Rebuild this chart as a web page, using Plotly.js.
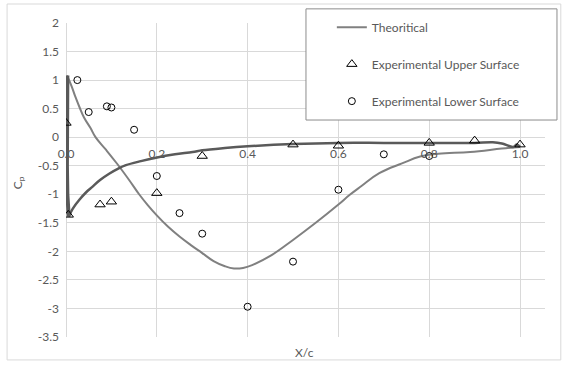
<!DOCTYPE html>
<html>
<head>
<meta charset="utf-8">
<script src="https://cdn.plot.ly/plotly-3.0.1.min.js"></script>
<style>
  html, body { margin: 0; padding: 0; background: #ffffff; }
  #chart { width: 565px; height: 365px; }
</style>
</head>
<body>
<div id="chart"></div>
<script>
// Theoretical Cp, lower (pressure) side: from the stagnation point back to the trailing edge
const theoryLowerX = [0.002, 0.012, 0.021, 0.030, 0.040, 0.054, 0.065, 0.088, 0.113, 0.139, 0.161, 0.180, 0.200, 0.225, 0.250, 0.275, 0.300, 0.325, 0.350, 0.370, 0.390, 0.410, 0.450, 0.500, 0.550, 0.600, 0.625, 0.650, 0.690, 0.740, 0.780, 0.820, 0.890, 0.960, 1.000];
const theoryLowerY = [1.08, 0.90, 0.70, 0.52, 0.34, 0.16, 0.00, -0.22, -0.47, -0.75, -1.00, -1.19, -1.37, -1.57, -1.74, -1.89, -2.03, -2.17, -2.26, -2.30, -2.29, -2.24, -2.08, -1.80, -1.50, -1.18, -1.01, -0.86, -0.63, -0.46, -0.34, -0.29, -0.26, -0.20, -0.17];

// Theoretical Cp along the leading edge (densely sampled near x = 0)
const theoryLeadX = [0.003, 0.002, 0.002, 0.003, 0.004, 0.006];
const theoryLeadY = [1.08, 0.50, -0.50, -1.00, -1.25, -1.39];

// Theoretical Cp, upper (suction) side: from the leading edge to the trailing edge
const theoryUpperX = [0.006, 0.015, 0.029, 0.045, 0.058, 0.075, 0.095, 0.115, 0.132, 0.165, 0.198, 0.240, 0.279, 0.300, 0.350, 0.400, 0.500, 0.600, 0.700, 0.800, 0.900, 0.940, 0.960, 0.985, 0.993, 1.000];
const theoryUpperY = [-1.39, -1.25, -1.10, -0.96, -0.87, -0.75, -0.64, -0.55, -0.49, -0.42, -0.36, -0.30, -0.26, -0.23, -0.19, -0.16, -0.12, -0.10, -0.10, -0.10, -0.10, -0.09, -0.11, -0.17, -0.13, -0.17];

// Measured pressure taps
const expUpperX = [0.000, 0.005, 0.075, 0.100, 0.200, 0.300, 0.500, 0.600, 0.800, 0.900, 1.000];
const expUpperY = [0.25, -1.36, -1.18, -1.13, -0.98, -0.33, -0.13, -0.15, -0.10, -0.06, -0.13];

const expLowerX = [0.025, 0.050, 0.090, 0.100, 0.150, 0.200, 0.250, 0.300, 0.400, 0.500, 0.600, 0.700, 0.800];
const expLowerY = [1.00, 0.44, 0.54, 0.52, 0.13, -0.68, -1.33, -1.69, -2.97, -2.18, -0.92, -0.30, -0.33];

// Axis ticks
const xTickVals = [0, 0.2, 0.4, 0.6, 0.8, 1.0];
const xTickText = ['0.0', '0.2', '0.4', '0.6', '0.8', '1.0'];
const yTickVals = [2, 1.5, 1, 0.5, 0, -0.5, -1, -1.5, -2, -2.5, -3, -3.5];
const yTickText = ['2', '1.5', '1', '0.5', '0', '-0.5', '-1', '-1.5', '-2', '-2.5', '-3', '-3.5'];

const seriesNames = ['Theoritical', 'Experimental Upper Surface', 'Experimental Lower Surface'];

const FONT = 'Lato, "Open Sans", sans-serif';
const TEXT = '#595959';
const GRID = '#d9d9d9';

const traces = [
  {
    x: theoryLowerX, y: theoryLowerY, name: seriesNames[0],
    type: 'scatter', mode: 'lines', legendgroup: 'theory',
    line: { color: '#808080', width: 2, shape: 'spline', smoothing: 1.2 }
  },
  {
    x: theoryLeadX, y: theoryLeadY, name: seriesNames[0],
    type: 'scatter', mode: 'lines', legendgroup: 'theory', showlegend: false,
    line: { color: '#595959', width: 4 }
  },
  {
    x: theoryUpperX, y: theoryUpperY, name: seriesNames[0],
    type: 'scatter', mode: 'lines', legendgroup: 'theory', showlegend: false,
    line: { color: '#5a5a5a', width: 2.5, shape: 'spline', smoothing: 1 }
  },
  {
    x: expUpperX, y: expUpperY, name: seriesNames[1],
    type: 'scatter', mode: 'markers', legendgroup: 'upper',
    marker: { symbol: 'triangle-up-open', size: 9, color: '#000000', line: { width: 1, color: '#000000' } }
  },
  {
    x: expLowerX, y: expLowerY, name: seriesNames[2],
    type: 'scatter', mode: 'markers', legendgroup: 'lower',
    marker: { symbol: 'circle-open', size: 7, color: '#000000', line: { width: 1, color: '#000000' } }
  }
];

const layout = {
  width: 565,
  height: 365,
  margin: { l: 66, r: 20, t: 23, b: 28 },
  paper_bgcolor: '#ffffff',
  plot_bgcolor: '#ffffff',
  font: { family: FONT, size: 12, color: TEXT },
  showlegend: true,
  legend: {
    x: 0.555, y: 1.033, xanchor: 'left', yanchor: 'top',
    bgcolor: 'rgba(0,0,0,0)', borderwidth: 0,
    tracegroupgap: 18,
    font: { family: FONT, size: 12, color: TEXT }
  },
  xaxis: {
    range: [0, 1.055],
    tickvals: xTickVals, ticktext: xTickText,
    anchor: 'free', position: 3.5 / 5.5,
    ticks: '', ticklabelstandoff: 8,
    showgrid: true, gridcolor: GRID, gridwidth: 1,
    zeroline: true, zerolinecolor: GRID, zerolinewidth: 1,
    showline: false,
    tickfont: { family: FONT, size: 12, color: TEXT }
  },
  yaxis: {
    range: [-3.5, 2],
    tickvals: yTickVals, ticktext: yTickText,
    ticks: '', ticklabelstandoff: 6,
    showgrid: true, gridcolor: GRID, gridwidth: 1,
    zeroline: true, zerolinecolor: GRID, zerolinewidth: 1,
    showline: false,
    tickfont: { family: FONT, size: 12, color: TEXT }
  },
  shapes: [
    // outer chart frame
    { type: 'rect', xref: 'paper', yref: 'paper', x0: -0.123, x1: 1.033, y0: -0.073, y1: 1.0605,
      line: { color: GRID, width: 1 }, fillcolor: 'rgba(0,0,0,0)', layer: 'below' },
    // legend box
    { type: 'rect', xref: 'paper', yref: 'paper', x0: 0.501, x1: 1.025, y0: 0.691, y1: 1.045,
      line: { color: '#8c8c8c', width: 1 }, fillcolor: '#ffffff', layer: 'above' }
  ],
  annotations: [
    { text: 'X/c', xref: 'paper', yref: 'paper', x: 0.497, y: -0.048,
      xanchor: 'center', yanchor: 'middle', showarrow: false,
      font: { family: FONT, size: 12, color: TEXT } },
    { text: 'C<sub>p</sub>', xref: 'paper', yref: 'paper', x: -0.100, y: 0.49,
      xanchor: 'center', yanchor: 'middle', textangle: -90, showarrow: false,
      font: { family: FONT, size: 12, color: TEXT } }
  ]
};

Plotly.newPlot('chart', traces, layout, { staticPlot: true, displayModeBar: false });
</script>
</body>
</html>
